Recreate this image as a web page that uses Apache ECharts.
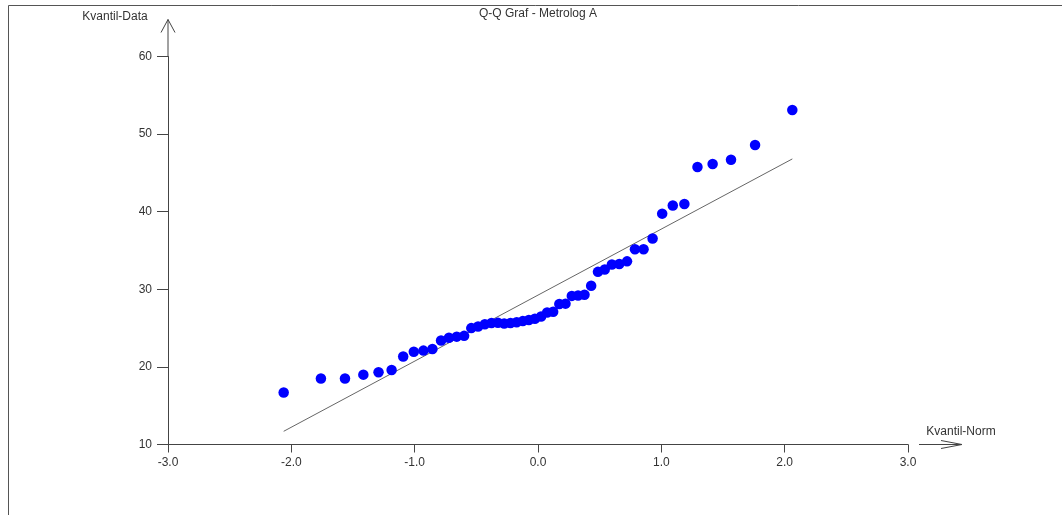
<!DOCTYPE html>
<html>
<head>
<meta charset="utf-8">
<title>Q-Q Graf - Metrolog A</title>
<script src="https://cdn.jsdelivr.net/npm/echarts@6/dist/echarts.min.js"></script>
<style>
  html, body { margin: 0; padding: 0; background: #fff; }
  #chart { width: 1062px; height: 515px; }
</style>
</head>
<body>
<div id="chart"></div>
<script>
// Theoretical normal quantiles (x) and ordered measurements (y)
const quantX = [
  -2.062, -1.760, -1.565, -1.416, -1.293, -1.187, -1.093, -1.007, -0.929, -0.856,
  -0.786, -0.722, -0.659, -0.599, -0.541, -0.486, -0.431, -0.377, -0.325, -0.274,
  -0.223, -0.173, -0.123, -0.074, -0.025, 0.025, 0.074, 0.123, 0.173, 0.223,
  0.274, 0.325, 0.377, 0.431, 0.486, 0.541, 0.599, 0.659, 0.722, 0.786,
  0.856, 0.929, 1.007, 1.093, 1.187, 1.293, 1.416, 1.565, 1.760, 2.062
];
const dataY = [
  16.7, 18.5, 18.5, 19.0, 19.3, 19.6, 21.35, 21.95, 22.1, 22.3,
  23.4, 23.75, 23.9, 24.0, 25.0, 25.2, 25.5, 25.65, 25.7, 25.6,
  25.65, 25.75, 25.9, 26.05, 26.2, 26.5, 27.0, 27.1, 28.1, 28.15,
  29.15, 29.2, 29.3, 30.45, 32.25, 32.55, 33.2, 33.25, 33.6, 35.15,
  35.15, 36.55, 39.75, 40.8, 41.0, 45.75, 46.15, 46.7, 48.6, 53.1
];
// Reference (fitted) line end points
const fitX = [-2.062, 2.062];
const fitY = [11.7, 46.8];

// Axis ranges and tick labels
const xTicks = [-3, -2, -1, 0, 1, 2, 3];
const yTicks = [10, 20, 30, 40, 50, 60];
const chartTitle = 'Q-Q Graf - Metrolog A';
const xName = 'Kvantil-Norm';
const yName = 'Kvantil-Data';

const FONT = '"Liberation Sans", Arial, sans-serif';
const TEXT = '#333';
const AXIS = '#444';

const chart = echarts.init(document.getElementById('chart'), null, { renderer: 'canvas' });

const points = quantX.map((x, i) => [x, dataY[i]]);
const fitLine = fitX.map((x, i) => [x, fitY[i]]);

chart.setOption({
  animation: false,
  backgroundColor: '#fff',
  grid: { left: 168, right: 154, top: 56.5, bottom: 70.5, containLabel: false },
  xAxis: {
    type: 'value',
    min: xTicks[0],
    max: xTicks[xTicks.length - 1],
    interval: 1,
    splitLine: { show: false },
    axisLine: { onZero: false, lineStyle: { color: AXIS, width: 1 } },
    axisTick: { show: true, inside: false, length: 8, lineStyle: { color: AXIS } },
    axisLabel: {
      margin: 12, color: TEXT, fontFamily: FONT, fontSize: 12,
      formatter: v => v.toFixed(1)
    }
  },
  yAxis: {
    type: 'value',
    min: yTicks[0],
    max: yTicks[yTicks.length - 1],
    interval: 10,
    splitLine: { show: false },
    axisLine: { show: true, onZero: false, lineStyle: { color: AXIS, width: 1 } },
    axisTick: { show: true, inside: false, length: 11, lineStyle: { color: AXIS } },
    axisLabel: { margin: 16, color: TEXT, fontFamily: FONT, fontSize: 12 }
  },
  series: [
    {
      type: 'line',
      data: fitLine,
      symbol: 'none',
      silent: true,
      lineStyle: { color: '#666', width: 1 },
      z: 2
    },
    {
      type: 'scatter',
      data: points,
      symbol: 'circle',
      symbolSize: 10.5,
      itemStyle: { color: '#0000ff', opacity: 1 },
      z: 3
    }
  ]
});

// Frame, title, axis names and arrows, placed from the axis scales
function drawDecorations() {
  const yTop = chart.convertToPixel({ gridIndex: 0 }, [xTicks[0], yTicks[yTicks.length - 1]]);
  const xEnd = chart.convertToPixel({ gridIndex: 0 }, [xTicks[xTicks.length - 1], yTicks[0]]);
  const mid = chart.convertToPixel({ gridIndex: 0 }, [0, yTicks[0]]);
  const ax = yTop[0], ayTop = yTop[1];
  const axEnd = xEnd[0], ayBase = xEnd[1];
  const arrowTipY = ayTop - 37;
  const xArrowStart = axEnd + 11;
  const xArrowTip = axEnd + 54;
  const stroke = { stroke: AXIS, lineWidth: 1 };

  chart.setOption({
    graphic: [
      // outer frame (top and left edges)
      { type: 'polyline', shape: { points: [[8.5, 515], [8.5, 5.5], [1062, 5.5]] }, style: { stroke: '#555', lineWidth: 1, fill: null }, silent: true },
      // chart title
      { type: 'text', x: mid[0], y: 8, style: { text: chartTitle, fill: TEXT, font: '12px ' + FONT, textAlign: 'center', textVerticalAlign: 'top' } },
      // y axis name and arrow
      { type: 'text', x: ax - 53, y: 11, style: { text: yName, fill: TEXT, font: '12px ' + FONT, textAlign: 'center', textVerticalAlign: 'top' } },
      { type: 'line', shape: { x1: ax, y1: ayTop, x2: ax, y2: arrowTipY }, style: stroke, silent: true },
      { type: 'polyline', shape: { points: [[ax - 7, arrowTipY + 13], [ax, arrowTipY], [ax + 7, arrowTipY + 13]] }, style: { stroke: AXIS, lineWidth: 1, fill: null }, silent: true },
      // x axis name and arrow
      { type: 'text', x: axEnd + 53, y: ayBase - 19, style: { text: xName, fill: TEXT, font: '12px ' + FONT, textAlign: 'center', textVerticalAlign: 'top' } },
      { type: 'line', shape: { x1: xArrowStart, y1: ayBase, x2: xArrowTip, y2: ayBase }, style: stroke, silent: true },
      { type: 'polyline', shape: { points: [[xArrowTip - 21, ayBase - 4], [xArrowTip, ayBase], [xArrowTip - 21, ayBase + 4]] }, style: { stroke: AXIS, lineWidth: 1, fill: null }, silent: true }
    ]
  });
}
drawDecorations();
</script>
</body>
</html>
